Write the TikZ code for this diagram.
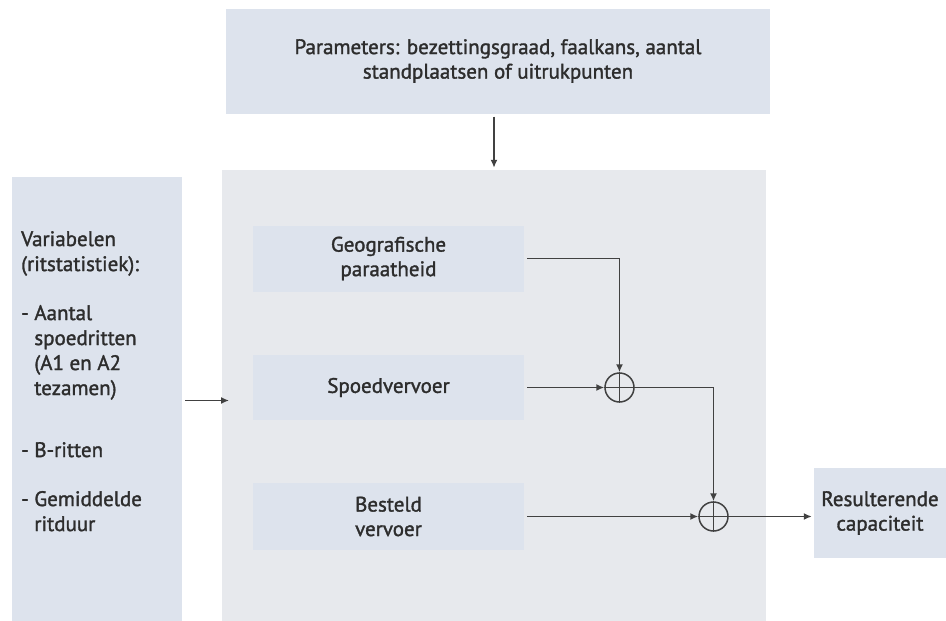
\documentclass[tikz,border=0pt]{standalone}
\usepackage{fontspec}
\setmainfont{PT Sans}
\newfontfamily\diafont{PT Sans}[FakeBold=1.5]
\usetikzlibrary{arrows.meta}
\definecolor{boxblue}{RGB}{221,227,237}
\definecolor{boxgrey}{RGB}{231,233,237}
\definecolor{inkgrey}{RGB}{45,45,45}
\definecolor{linegrey}{RGB}{65,65,65}

\begin{document}
\begin{tikzpicture}[x=1pt,y=-1pt,
  box/.style={fill=boxblue, draw=none, inner sep=0pt, text=inkgrey, align=center, font=\diafont\fontsize{21}{24.5}\selectfont},
  flow/.style={draw=linegrey, line width=1.5pt, -{Latex[length=8pt,width=7pt]}},
  sum/.style={circle, draw=linegrey, line width=1.5pt, minimum size=29pt, inner sep=0pt}]
\useasboundingbox (0,0) rectangle (946,621);

\node[box, minimum width=544pt, minimum height=105pt] (par) at (498,61) {Parameters: bezettingsgraad, faalkans, aantal\\standplaatsen of uitrukpunten};

\node[box, minimum width=170pt, minimum height=444pt] (var) at (97,399) {};
\node[box, fill=none, align=left, anchor=north west, font=\diafont\fontsize{21}{25}\selectfont] (vartxt) at (21,231) {Variabelen\\(ritstatistiek):\\[24pt]
  - Aantal\\\phantom{- }spoedritten\\\phantom{- }(A1 en A2\\\phantom{- }tezamen)\\[37pt]
  - B-ritten\\[24pt]
  - Gemiddelde\\\phantom{- }ritduur};

\node[box, fill=boxgrey, minimum width=544pt, minimum height=451pt] (model) at (494,395.5) {};
\node[box, minimum width=271pt, minimum height=66pt] (geo) at (388.5,258.5) {Geografische\\paraatheid};
\node[box, minimum width=271pt, minimum height=65pt] (spoed) at (388.5,387.5) {Spoedvervoer};
\node[box, minimum width=271pt, minimum height=67pt] (besteld) at (388.5,516.5) {Besteld\\vervoer};

\node[sum] (s1) at (619.5,387.5) {};
\node[sum] (s2) at (713.5,516.5) {};
\draw[linegrey, line width=1.5pt] (s1.north) -- (s1.south) (s1.west) -- (s1.east);
\draw[linegrey, line width=1.5pt] (s2.north) -- (s2.south) (s2.west) -- (s2.east);

\node[box, minimum width=132pt, minimum height=90pt] (res) at (880,513) {Resulterende\\capaciteit};

\coordinate (vout) at (185,400.5);
\coordinate (vin) at (229,400.5);
\draw[flow] (vout) -- (vin);
\draw[flow, shorten <=3pt, shorten >=2pt] (model.north |- par.south) -- (model.north);
\draw[flow, shorten <=3pt] (geo.east) -| (s1.north);
\draw[flow, shorten <=3pt] (spoed.east) -- (s1.west);
\draw[flow] (s1.east) -| (s2.north);
\draw[flow, shorten <=3pt] (besteld.east) -- (s2.west);
\draw[flow, shorten >=2pt] (s2.east) -- (s2.east -| res.west);
\end{tikzpicture}
\end{document}
